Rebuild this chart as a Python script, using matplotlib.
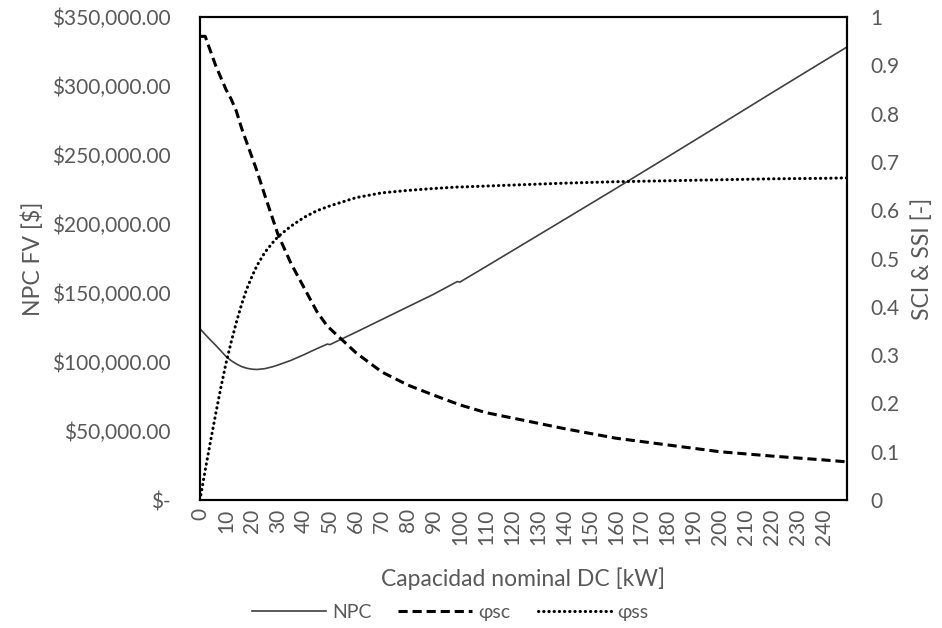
import matplotlib
matplotlib.use('Agg')
import matplotlib.pyplot as plt
from matplotlib.ticker import FuncFormatter, MultipleLocator

# capacidad nominal DC [kW]
kw = [0, 2, 4, 6, 8, 10, 12, 14, 16, 18, 20, 22, 25, 28, 30, 35, 40, 45, 49, 50,
      60, 70, 80, 90, 99, 100, 110, 120, 140, 160, 180, 200, 220, 240, 249]

# NPC FV [$]
npc = [124000, 120000, 116000, 112200, 108200, 104000, 101000, 98600, 96700,
       95500, 94800, 94600, 95200, 96600, 97800, 101200, 105300, 109700, 113000,
       112600, 121600, 130800, 140000, 149200, 158300, 157900, 169100, 180400,
       203000, 225700, 248700, 271800, 295000, 318000, 328300]

# indice de autoconsumo
phi_sc = [0.96, 0.96, 0.93, 0.90, 0.875, 0.85, 0.83, 0.805, 0.77, 0.74, 0.71,
          0.68, 0.63, 0.582, 0.55, 0.49, 0.44, 0.39, 0.36, 0.355, 0.305, 0.265,
          0.238, 0.217, 0.199, 0.197, 0.181, 0.170, 0.148, 0.128, 0.114, 0.100,
          0.091, 0.083, 0.079]

# indice de autosuficiencia
phi_ss = [0.0, 0.062, 0.12, 0.177, 0.232, 0.283, 0.327, 0.368, 0.405, 0.437,
          0.463, 0.486, 0.513, 0.533, 0.545, 0.567, 0.585, 0.599, 0.607, 0.609,
          0.626, 0.636, 0.641, 0.645, 0.648, 0.648, 0.650, 0.652, 0.656, 0.659,
          0.661, 0.663, 0.665, 0.666, 0.667]

gris = '#595959'
plt.rcParams['font.family'] = ['Lato', 'DejaVu Sans']

fig = plt.figure(figsize=(9.42, 6.28), dpi=100)
ax = fig.add_axes([0.2123, 0.2038, 0.6869, 0.7691])
ax2 = ax.twinx()

l1, = ax.plot(kw, npc, color='#404040', lw=1.2, label='NPC')
l2, = ax2.plot(kw, phi_sc, color='black', lw=2.2, linestyle=(0, (3, 1.6)), label='φsc')
l3, = ax2.plot(kw, phi_ss, color='black', lw=2.2, linestyle=(0, (0.1, 1.6)),
               dash_capstyle='round', label='φss')

ax.set_xlim(0, 249)
ax.set_ylim(0, 350000)
ax2.set_ylim(0, 1)
ax.xaxis.set_major_locator(MultipleLocator(10))
ax.yaxis.set_major_locator(MultipleLocator(50000))
ax2.yaxis.set_major_locator(MultipleLocator(0.1))

def dinero(v, pos):
    if v == 0:
        return '$-'
    return '${:,.2f}'.format(v)

ax.yaxis.set_major_formatter(FuncFormatter(dinero))
ax2.yaxis.set_major_formatter(FuncFormatter(lambda v, p: '{:g}'.format(round(v, 1))))

ax.tick_params(axis='x', labelrotation=90, length=0, pad=6, labelsize=15, labelcolor=gris)
ax.tick_params(axis='y', length=0, pad=21, labelsize=15, labelcolor=gris)
ax2.tick_params(axis='y', length=0, pad=17, labelsize=15, labelcolor=gris)

for a in (ax, ax2):
    for s in a.spines.values():
        s.set_color('black')
        s.set_linewidth(1.5)

ax.set_xlabel('Capacidad nominal DC [kW]', fontsize=16.5, color=gris, labelpad=16)
ax.set_ylabel('NPC FV [$]', fontsize=16.5, color=gris, labelpad=6)
ax2.set_ylabel('SCI & SSI [-]', fontsize=16.5, color=gris, labelpad=8)

fig.legend(handles=[l1, l2, l3], loc='center', bbox_to_anchor=(0.478, 0.025), ncol=3,
           frameon=False, fontsize=14, labelcolor=gris, handlelength=3.8,
           columnspacing=1.4, handletextpad=0.3)

plt.savefig('out.png', dpi=100)
